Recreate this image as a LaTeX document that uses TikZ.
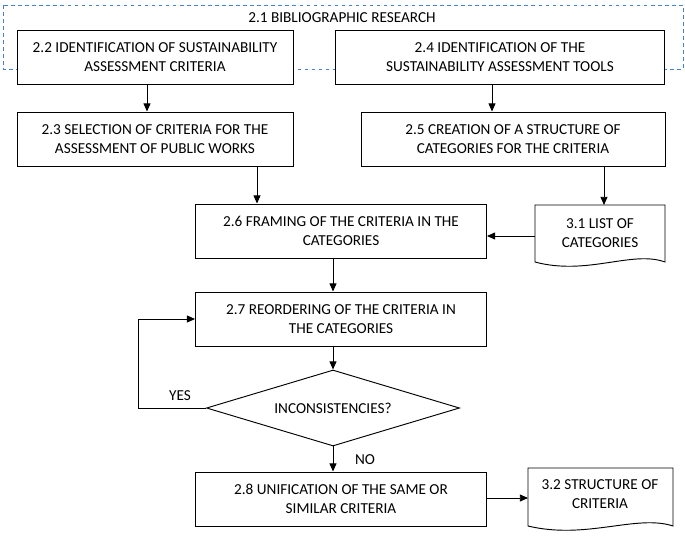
\documentclass[tikz,border=0pt]{standalone}
\usepackage{fontspec}
\setmainfont{Carlito}
\usetikzlibrary{shapes.geometric,arrows.meta,calc}
\definecolor{bibblue}{RGB}{70,130,200}
\tikzset{
    box/.style={draw,thick,fill=white,minimum width=#1,minimum height=54*0.03cm,align=center,inner sep=2pt},
    box/.default={291*0.03cm},
    arr/.style={-{Triangle[length=7pt,width=6pt]},thick},
}
\newcommand{\docshape}[5]{% name, x1, y1, x2, y2
    \draw[thick] (#2,#3) -- (#4,#3) -- (#4,#5) .. controls ({#4-0.25*(#4-#2)},{#5-12}) and ({#2+0.4*(#4-#2)},{#5+14}) .. (#2,#5) -- cycle;
    \coordinate (#1) at ({(#2+#4)/2},#3);
}
\begin{document}
\begin{tikzpicture}[x=0.03cm,y=-0.03cm,font=\fontsize{13}{16}\selectfont]
    \useasboundingbox (0,0) rectangle (685,540);

    \draw[dashed,thick,bibblue] (3,5) rectangle (683,69);
    \node (bib) at (342,18) {2.1 BIBLIOGRAPHIC RESEARCH};

    \node[box=276*0.03cm] (id22) at (155,57) {2.2 IDENTIFICATION OF SUSTAINABILITY\\ASSESSMENT CRITERIA};
    \node[box=329*0.03cm] (id24) at (500,57) {2.4 IDENTIFICATION OF THE\\SUSTAINABILITY ASSESSMENT TOOLS};
    \node[box=276*0.03cm] (sel23) at (155,139) {2.3 SELECTION OF CRITERIA FOR THE\\ASSESSMENT OF PUBLIC WORKS};
    \node[box=304*0.03cm] (cre25) at (513,139) {2.5 CREATION OF A STRUCTURE OF\\CATEGORIES FOR THE CRITERIA};
    \node[box] (fra26) at (341,231) {2.6 FRAMING OF THE CRITERIA IN THE\\CATEGORIES};
    \node[box] (reo27) at (341,319) {2.7 REORDERING OF THE CRITERIA IN\\THE CATEGORIES};
    \node[draw,thick,diamond,aspect=3.4,minimum width=253*0.03cm,minimum height=76*0.03cm,inner sep=0pt] (inc) at (333,408) {INCONSISTENCIES?};
    \node[box] (uni28) at (341,499) {2.8 UNIFICATION OF THE SAME OR\\SIMILAR CRITERIA};

    \docshape{list31}{535}{205}{665}{262}
    \node[align=center] (list31t) at (600,233) {3.1 LIST OF\\CATEGORIES};
    \docshape{str32}{528}{468}{673}{526}
    \node[align=center] (str32t) at (600,494) {3.2 STRUCTURE OF\\CRITERIA};

    \draw[arr] (id22.south -| 147,0) -- (sel23.north -| 147,0);
    \draw[arr] (id24.south -| 492,0) -- (cre25.north -| 492,0);
    \draw[arr] (sel23.south -| 257,0) -- (fra26.north -| 257,0);
    \draw[arr] (cre25.south -| 604,0) -- (list31 -| 604,0);
    \draw[arr] (list31 |- 0,236) ++(-65,0) -- (fra26.east |- 0,236);
    \draw[arr] (fra26.south -| 333,0) -- (reo27.north -| 333,0);
    \draw[arr] (reo27.south -| 333,0) -- (inc.north);
    \draw[arr] (inc.west) -- (138,408) -- (138,319) -- (reo27.west);
    \node (yes) at (180,396) {YES};
    \draw[arr] (inc.south) -- (uni28.north -| 333,0);
    \node (no) at (365,460) {NO};
    \draw[arr] (uni28.east |- 0,498) -- (528,498);
\end{tikzpicture}
\end{document}
